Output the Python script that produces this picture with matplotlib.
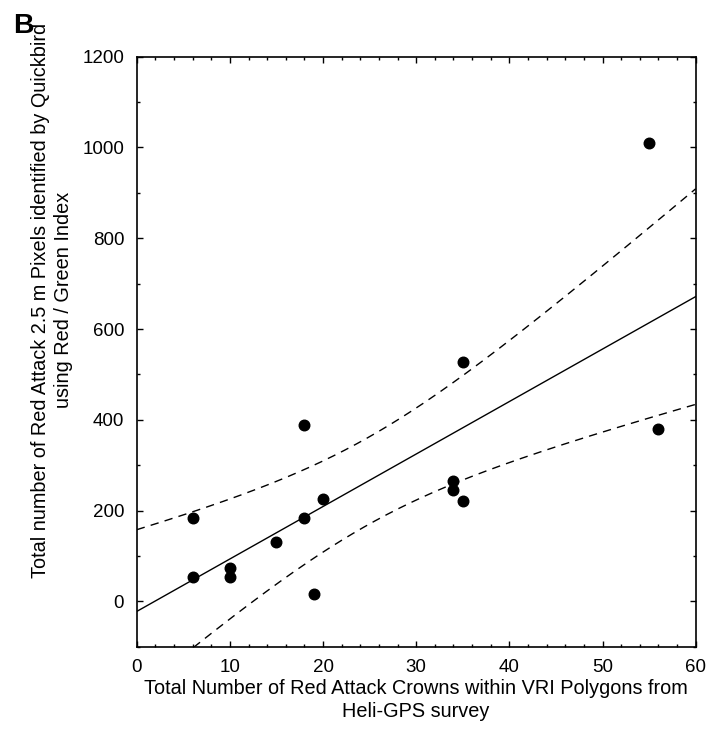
"""
Red attack pixels (Quickbird) vs red attack crowns (Heli-GPS), with OLS fit and 95% CI
"""

import numpy as np
import matplotlib
matplotlib.use('Agg')
import matplotlib.pyplot as plt
from matplotlib.ticker import MultipleLocator

plt.rcParams['font.family'] = ['Liberation Sans', 'DejaVu Sans']

# Observed polygons
crowns = np.array([6, 6, 10, 10, 15, 18, 18, 19, 20, 34, 34, 35, 35, 55, 56])
pixels = np.array([183, 54, 73, 54, 130, 183, 389, 16, 226, 266, 245, 220, 527, 1009, 380])

X_LABEL = 'Total Number of Red Attack Crowns within VRI Polygons from\nHeli-GPS survey'
Y_LABEL = 'Total number of Red Attack 2.5 m Pixels identified by Quickbird\nusing Red / Green Index'

# Least squares fit + 95% confidence band of the mean
n = len(crowns)
x_mean = crowns.mean()
sxx = np.sum((crowns - x_mean) ** 2)
slope = np.sum((crowns - x_mean) * (pixels - pixels.mean())) / sxx
intercept = pixels.mean() - slope * x_mean
resid = pixels - (intercept + slope * crowns)
s = np.sqrt(np.sum(resid ** 2) / (n - 2))
T_975 = 2.160  # t(0.975, df=13)

x_fit = np.linspace(0, 60, 200)
y_fit = intercept + slope * x_fit
half = T_975 * s * np.sqrt(1 / n + (x_fit - x_mean) ** 2 / sxx)

fig = plt.figure(figsize=(7.07, 7.38), dpi=100)
ax = fig.add_axes([0.1934, 0.1237, 0.7906, 0.7995])

ax.plot(x_fit, y_fit, color='black', lw=1.0)
ax.plot(x_fit, y_fit + half, color='black', lw=1.0, ls=(0, (6, 4.5)))
ax.plot(x_fit, y_fit - half, color='black', lw=1.0, ls=(0, (6, 4.5)))
ax.plot(crowns, pixels, 'o', color='black', ms=7.6, zorder=3)

ax.set_xlim(0, 60)
ax.set_ylim(-100, 1200)
ax.xaxis.set_major_locator(MultipleLocator(10))
ax.xaxis.set_minor_locator(MultipleLocator(2))
ax.yaxis.set_major_locator(MultipleLocator(200))
ax.yaxis.set_minor_locator(MultipleLocator(100))
ax.tick_params(which='both', direction='in', top=True, right=True, labelsize=13.5, width=1.0)
ax.tick_params(which='major', length=4, pad=9)
ax.tick_params(which='minor', length=2.5)
for sp in ax.spines.values():
    sp.set_linewidth(1.2)

fig.text(0.5885, 0.051, X_LABEL, ha='center', va='center', fontsize=14.3, linespacing=1.25)
fig.text(0.074, 0.593, Y_LABEL, ha='center', va='center', rotation=90, fontsize=14.3, linespacing=1.25)
fig.text(0.018, 0.955, 'B', ha='left', va='baseline', fontsize=20.5, fontweight='bold')

fig.savefig('out.png', dpi=100)
